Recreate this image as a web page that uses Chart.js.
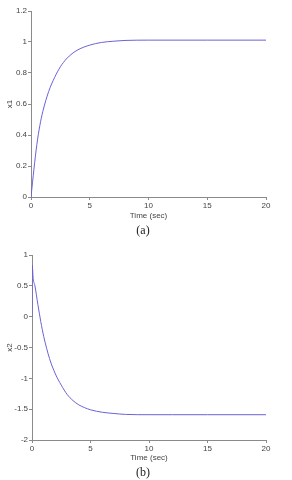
<!DOCTYPE html>
<html>
<head>
<meta charset="utf-8">
<script src="https://cdn.jsdelivr.net/npm/chart.js@4.4.0/dist/chart.umd.min.js"></script>
<style>
  body { margin: 0; background: #fff; width: 292px; height: 480px; position: relative; overflow: hidden; }
  .box { position: absolute; left: 0; width: 292px; }
  .cap { position: absolute; left: 0; width: 286px; text-align: center; font-family: "Liberation Serif", serif; font-size: 12px; color: #222; }
</style>
</head>
<body>
<div class="box" style="top:0;height:224px"><canvas id="chartA" width="292" height="224"></canvas></div>
<div class="cap" style="top:223px">(a)</div>
<div class="box" style="top:240px;height:226px"><canvas id="chartB" width="292" height="226"></canvas></div>
<div class="cap" style="top:465px">(b)</div>
<script>
// values
let timeA = [0, 0.25, 0.5, 0.75, 1, 1.5, 2, 2.5, 3, 3.5, 4, 5, 6, 7, 8, 10, 12, 15, 20];
let x1 = [0, 0.18, 0.34, 0.46, 0.55, 0.68, 0.77, 0.84, 0.89, 0.925, 0.95, 0.98, 0.997, 1.005, 1.01, 1.012, 1.012, 1.012, 1.012];

let timeB = [0, 0.02, 0.1, 0.25, 0.5, 0.75, 1, 1.5, 2, 2.5, 3, 3.5, 4, 5, 6, 7, 8, 10, 12, 15, 20];
let x2 = [0, 0.83, 0.62, 0.5, 0.2, -0.08, -0.32, -0.68, -0.93, -1.11, -1.26, -1.36, -1.43, -1.51, -1.55, -1.57, -1.585, -1.59, -1.59, -1.59, -1.59];

let xTicks = [0, 5, 10, 15, 20];
let yTicksA = [0, 0.2, 0.4, 0.6, 0.8, 1, 1.2];
let yTicksB = [-2, -1.5, -1, -0.5, 0, 0.5, 1];

const lineCol = '#6a62d6';
const axisCol = '#8a8a8a';
const textCol = '#444';

function toPoints(t, v) {
  let pts = [];
  for (i = 0; i < t.length; i++) pts.push({ x: t[i], y: v[i] });
  return pts;
}

function plain(v) {
  return String(Math.round(v * 100) / 100);
}

function makeChart(id, pts, yTicks, yLabel, padTop, yWidth, xHeight) {
  let ctx = document.getElementById(id);
  return new Chart(ctx, {
    type: 'line',
    data: {
      datasets: [{
        data: pts,
        borderColor: lineCol,
        borderWidth: 1,
        pointRadius: 0,
        fill: false,
        cubicInterpolationMode: 'monotone'
      }]
    },
    options: {
      responsive: false,
      animation: false,
      layout: { padding: { top: padTop, right: 26, left: 0, bottom: 0 } },
      plugins: { legend: { display: false }, tooltip: { enabled: false } },
      scales: {
        x: {
          type: 'linear',
          min: 0, max: 20,
          afterBuildTicks: (s) => { s.ticks = xTicks.map(v => ({ value: v })); },
          afterFit: (s) => { s.height = xHeight; },
          grid: { drawOnChartArea: false, drawTicks: true, tickLength: 3, color: axisCol },
          border: { color: axisCol, width: 1 },
          ticks: { color: textCol, font: { family: 'Liberation Sans', size: 8 }, padding: 1, maxRotation: 0, callback: plain },
          title: { display: true, text: 'Time (sec)', color: textCol, font: { family: 'Liberation Sans', size: 8 }, padding: { top: 0, bottom: 3 } }
        },
        y: {
          min: yTicks[0], max: yTicks[yTicks.length - 1],
          afterBuildTicks: (s) => { s.ticks = yTicks.map(v => ({ value: v })); },
          afterFit: (s) => { s.width = yWidth; },
          grid: { drawOnChartArea: false, drawTicks: true, tickLength: 3, color: axisCol },
          border: { color: axisCol, width: 1 },
          ticks: { color: textCol, font: { family: 'Liberation Sans', size: 8 }, padding: 1, callback: plain },
          title: { display: true, text: yLabel, color: textCol, font: { family: 'Liberation Sans', size: 8 }, padding: { top: 5, bottom: 0 } }
        }
      }
    }
  });
}

makeChart('chartA', toPoints(timeA, x1), yTicksA, 'x1', 11, 31, 27);
makeChart('chartB', toPoints(timeB, x2), yTicksB, 'x2', 15, 32, 26);
</script>
</body>
</html>
